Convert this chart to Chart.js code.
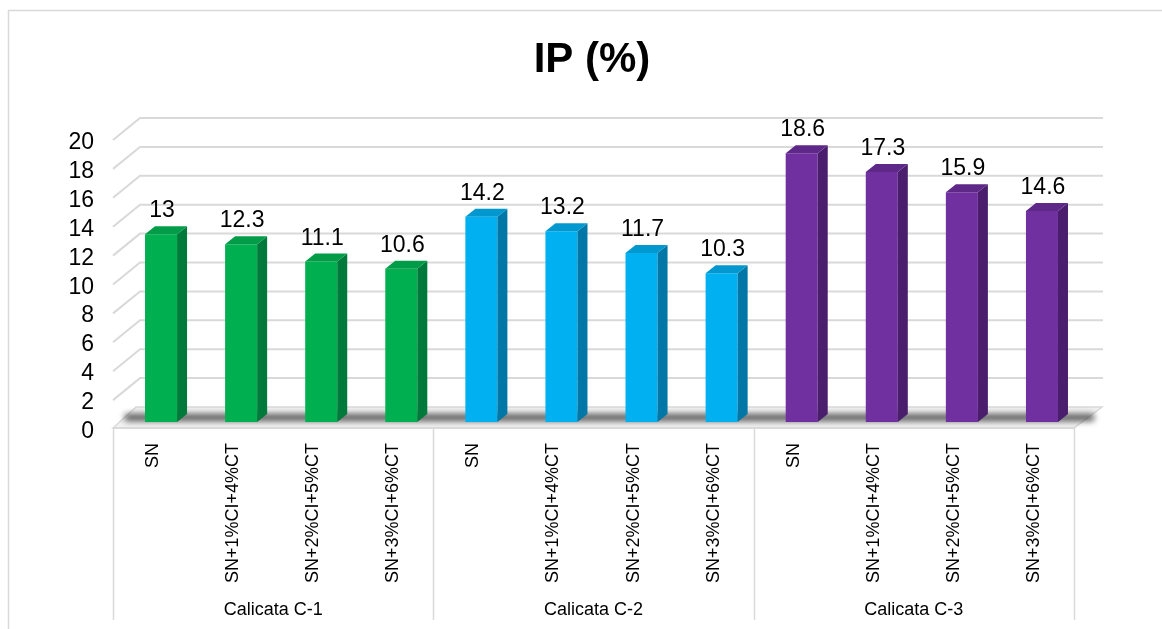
<!DOCTYPE html>
<html>
<head>
<meta charset="utf-8">
<title>IP (%)</title>
<script src="https://cdn.jsdelivr.net/npm/chart.js"></script>
<style>
  body { margin: 0; background: #fff; }
  #wrap { position: relative; width: 1162px; height: 629px; overflow: hidden; }
</style>
</head>
<body>
<div id="wrap"><canvas id="ipChart" width="1162" height="629"></canvas></div>
<script>
// data
const groups = ["Calicata C-1", "Calicata C-2", "Calicata C-3"];
const treatments = ["SN", "SN+1%CI+4%CT", "SN+2%CI+5%CT", "SN+3%CI+6%CT"];
const calicataC1 = [13, 12.3, 11.1, 10.6];
const calicataC2 = [14.2, 13.2, 11.7, 10.3];
const calicataC3 = [18.6, 17.3, 15.9, 14.6];
const yTicks = [0, 2, 4, 6, 8, 10, 12, 14, 16, 18, 20];

const FONT = '"Liberation Sans", Arial, sans-serif';
const frontColors = ["#00B050", "#00B0F0", "#7030A0"];
const sideColors = ["#007A3A", "#0077A6", "#4A1E6C"];
const topColors = ["#009C47", "#0098CF", "#5E2889"];
const GRID = "#d9d9d9";

const labels = [];
const values = [];
const groupIdx = [];
[calicataC1, calicataC2, calicataC3].forEach((serie, g) => {
  serie.forEach((v, i) => {
    labels.push(treatments[i]);
    values.push(v);
    groupIdx.push(g);
  });
});

const deco = {
  id: "deco",
  beforeDatasetsDraw(chart) {
    const ctx = chart.ctx;
    const xs = chart.scales.x;
    const ys = chart.scales.y;
    const left = xs.left - 8;       // front left of the floor / label box
    const right = xs.right - 8;
    const catW = (xs.right - xs.left) / labels.length;
    const base = ys.getPixelForValue(0);

    ctx.save();
    // outer frame
    ctx.strokeStyle = GRID;
    ctx.lineWidth = 1.5;
    ctx.beginPath();
    ctx.moveTo(8.5, 629);
    ctx.lineTo(8.5, 10.5);
    ctx.lineTo(1162, 10.5);
    ctx.stroke();

    // title
    ctx.fillStyle = "#000";
    ctx.font = "bold 42px " + FONT;
    ctx.textAlign = "center";
    ctx.textBaseline = "alphabetic";
    ctx.fillText("IP (%)", 592, 72);

    // floor
    ctx.beginPath();
    ctx.moveTo(left, base + 6);
    ctx.lineTo(left + 23, base - 15);
    ctx.lineTo(right + 28, base - 15);
    ctx.lineTo(right, base + 6);
    ctx.closePath();
    ctx.fillStyle = "#f2f2f2";
    ctx.fill();
    ctx.lineWidth = 1.5;
    ctx.strokeStyle = GRID;
    ctx.stroke();

    // shadow on the floor
    ctx.save();
    ctx.filter = "blur(3px)";
    ctx.fillStyle = "rgba(55,55,55,0.85)";
    ctx.fillRect(left + 12, base - 8, right - left + 8, 7);
    ctx.restore();

    // grid lines on the side and back wall
    ctx.strokeStyle = GRID;
    ctx.lineWidth = 2;
    yTicks.forEach(v => {
      if (v === 0) return;
      const y = ys.getPixelForValue(v);
      ctx.beginPath();
      ctx.moveTo(left, y + 7);
      ctx.lineTo(left + 27, y - 15);
      ctx.lineTo(right + 29, y - 15);
      ctx.stroke();
    });

    // y tick labels
    ctx.fillStyle = "#000";
    ctx.font = "23px " + FONT;
    ctx.textAlign = "right";
    yTicks.forEach(v => {
      ctx.fillText(String(v), 94, ys.getPixelForValue(v) + 16);
    });

    // category label box
    const boxTop = base + 6;
    const boxBottom = 620;
    ctx.strokeStyle = GRID;
    ctx.lineWidth = 1.5;
    ctx.beginPath();
    ctx.moveTo(left, boxTop);
    ctx.lineTo(right, boxTop);
    for (let g = 0; g <= groups.length; g++) {
      const x = Math.round(left + g * treatments.length * catW) + 0.5;
      ctx.moveTo(x, boxTop);
      ctx.lineTo(x, boxBottom);
    }
    ctx.stroke();

    // rotated category labels
    ctx.fillStyle = "#000";
    ctx.font = "18px " + FONT;
    labels.forEach((lab, i) => {
      const cx = xs.getPixelForValue(i) - 8;
      ctx.save();
      ctx.translate(cx, boxTop + 15);
      ctx.rotate(-Math.PI / 2);
      ctx.textAlign = "right";
      ctx.textBaseline = "middle";
      ctx.fillText(lab, 0, 0);
      ctx.restore();
    });

    // group labels
    ctx.textAlign = "center";
    ctx.textBaseline = "alphabetic";
    groups.forEach((gName, g) => {
      const cx = left + (g + 0.5) * treatments.length * catW;
      ctx.fillText(gName, cx, 615);
    });
    ctx.restore();
  },
  afterDatasetsDraw(chart) {
    const ctx = chart.ctx;
    const meta = chart.getDatasetMeta(0);
    const DX = 10, DY = 8;
    ctx.save();
    meta.data.forEach((bar, i) => {
      const g = groupIdx[i];
      const x0 = bar.x - bar.width / 2;
      const x1 = bar.x + bar.width / 2;
      // side face
      ctx.beginPath();
      ctx.moveTo(x1, bar.y);
      ctx.lineTo(x1 + DX, bar.y - DY);
      ctx.lineTo(x1 + DX, bar.base - DY);
      ctx.lineTo(x1, bar.base);
      ctx.closePath();
      ctx.fillStyle = sideColors[g];
      ctx.fill();
      // top face
      ctx.beginPath();
      ctx.moveTo(x0, bar.y);
      ctx.lineTo(x0 + DX, bar.y - DY);
      ctx.lineTo(x1 + DX, bar.y - DY);
      ctx.lineTo(x1, bar.y);
      ctx.closePath();
      ctx.fillStyle = topColors[g];
      ctx.fill();
      // value label
      ctx.fillStyle = "#000";
      ctx.font = "23px " + FONT;
      ctx.textAlign = "center";
      ctx.textBaseline = "alphabetic";
      ctx.fillText(String(values[i]), bar.x + 1, bar.y - 17);
    });
    ctx.restore();
  }
};

new Chart(document.getElementById("ipChart"), {
  type: "bar",
  data: {
    labels: labels,
    datasets: [{
      label: "IP (%)",
      data: values,
      backgroundColor: groupIdx.map(g => frontColors[g]),
      borderWidth: 0,
      barPercentage: 0.4,
      categoryPercentage: 1.0
    }]
  },
  options: {
    responsive: false,
    animation: false,
    layout: { padding: { left: 121, right: 80, top: 133, bottom: 207 } },
    scales: {
      x: { display: false },
      y: { display: false, min: 0, max: 20 }
    },
    plugins: {
      legend: { display: false },
      tooltip: { enabled: false },
      title: { display: false }
    }
  },
  plugins: [deco]
});
</script>
</body>
</html>
